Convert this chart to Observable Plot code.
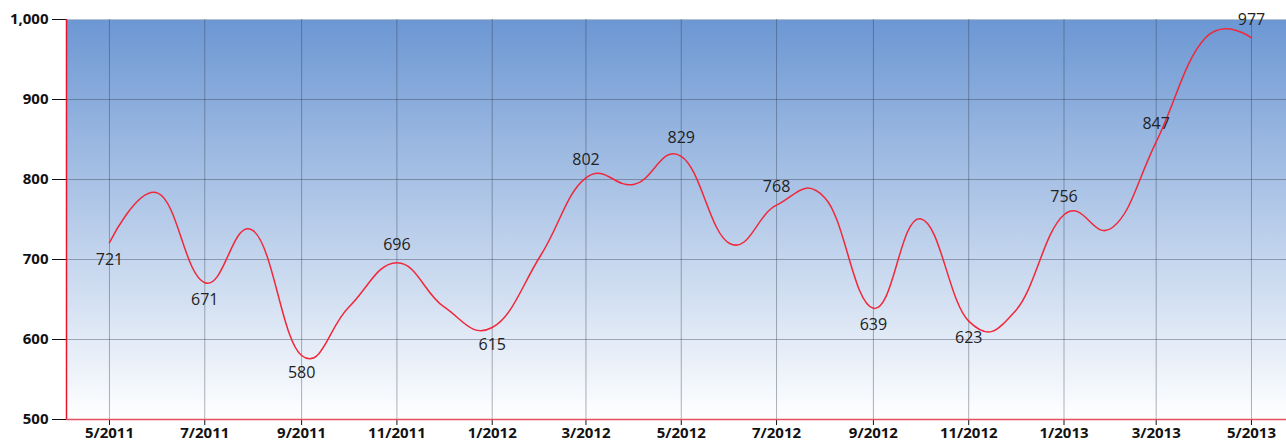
<!DOCTYPE html>
<html><head><meta charset="utf-8">
<script src="https://cdn.jsdelivr.net/npm/d3@7"></script>
<script src="https://cdn.jsdelivr.net/npm/@observablehq/plot@0.6"></script>
<style>
html,body{margin:0;padding:0;background:#fff;}
#chart svg{display:block;}
</style></head><body><div id="chart"></div>
<script>
// Monthly series
const months = ["2011-05","2011-06","2011-07","2011-08","2011-09","2011-10","2011-11","2011-12",
  "2012-01","2012-02","2012-03","2012-04","2012-05","2012-06","2012-07","2012-08","2012-09","2012-10",
  "2012-11","2012-12","2013-01","2013-02","2013-03","2013-04","2013-05"];
const values = [721, 783, 671, 736, 580, 640, 696, 641,
  615, 705, 802, 794, 829, 720, 768, 777, 639, 751,
  623, 636, 756, 740, 847, 976, 977];
// Months that carry a tick label and a value label
const tickMonths = ["2011-05","2011-07","2011-09","2011-11","2012-01","2012-03","2012-05",
  "2012-07","2012-09","2012-11","2013-01","2013-03","2013-05"];
const yTicks = [500, 600, 700, 800, 900, 1000];

const parse = s => new Date(s + "-01T00:00:00Z");
const data = months.map((m, i) => ({date: parse(m), value: values[i], month: m}));
const tickDates = tickMonths.map(parse);

// Label side: below for local minima, above otherwise
const labels = data.map((d, i) => {
  const prev = i > 0 ? values[i - 1] : null;
  const next = i < values.length - 1 ? values[i + 1] : null;
  let below;
  if (i === values.length - 1) below = false;
  else if (prev === null) below = d.value < next;
  else below = d.value < prev && d.value < next;
  return {...d, below};
}).filter(d => tickMonths.includes(d.month));

const xDomain = [new Date(Date.UTC(2011, 3, 3, 12)), new Date(Date.UTC(2013, 4, 23, 10))];

function background(index, scales, values, dimensions) {
  const {width, height, marginLeft, marginRight, marginTop, marginBottom} = dimensions;
  const g = d3.create("svg:g");
  const grad = g.append("defs").append("linearGradient")
    .attr("id", "bggrad").attr("x1", 0).attr("y1", 0).attr("x2", 0).attr("y2", 1);
  grad.append("stop").attr("offset", "0%").attr("stop-color", "#6c97d3");
  grad.append("stop").attr("offset", "100%").attr("stop-color", "#ffffff");
  g.append("rect")
    .attr("x", marginLeft).attr("y", marginTop)
    .attr("width", width - marginLeft - marginRight)
    .attr("height", height - marginTop - marginBottom)
    .attr("fill", "url(#bggrad)");
  return g.node();
}

const chart = Plot.plot({
  width: 1286,
  height: 445,
  marginLeft: 66,
  marginRight: 0,
  marginTop: 19,
  marginBottom: 26,
  style: {fontFamily: "'Open Sans', sans-serif", fontSize: "15px", fontWeight: 700, color: "#111", background: "#fff"},
  x: {type: "utc", domain: xDomain, ticks: tickDates, tickSize: 6, tickPadding: 2,
      tickFormat: d => `${d.getUTCMonth() + 1}/${d.getUTCFullYear()}`, label: null},
  y: {domain: [500, 1000], ticks: yTicks, tickSize: 14, tickPadding: 4,
      tickFormat: d3.format(","), label: null},
  marks: [
    background,
    Plot.ruleY(yTicks.filter(v => v > 500 && v < 1000), {stroke: "#2a3548", strokeOpacity: 0.38}),
    Plot.ruleY([1000], {stroke: "#b4bfcf"}),
    Plot.ruleX(tickDates, {stroke: "#2a3548", strokeOpacity: 0.38}),
    Plot.line(data, {x: "date", y: "value", stroke: "#f0283a", strokeWidth: 1.5, curve: "cardinal", tension: -0.25}),
    Plot.text(labels.filter(d => !d.below), {x: "date", y: "value", text: d => String(d.value),
      dy: -18, fontSize: 16, fontWeight: 400, fill: "#222"}),
    Plot.text(labels.filter(d => d.below), {x: "date", y: "value", text: d => String(d.value),
      dy: 17, fontSize: 16, fontWeight: 400, fill: "#222"}),
    Plot.ruleX([xDomain[0]], {stroke: "#e8142e", strokeWidth: 1.5}),
    Plot.ruleY([500], {stroke: "#e4505f", strokeWidth: 1.5})
  ]
});
document.getElementById("chart").appendChild(chart);
</script>
</body></html>
